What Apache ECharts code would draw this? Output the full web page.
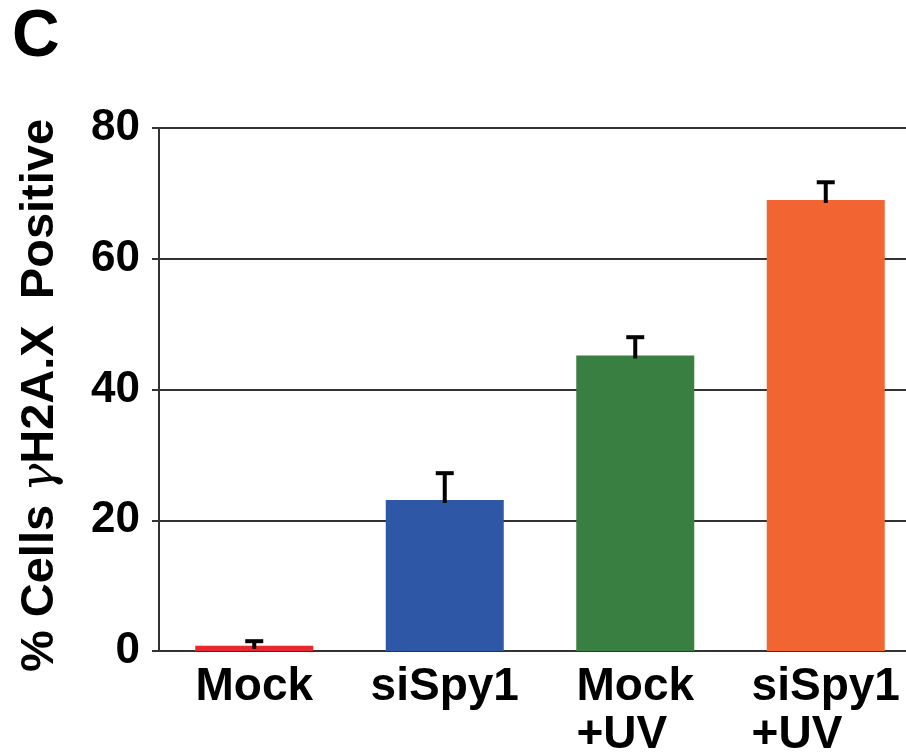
<!DOCTYPE html>
<html>
<head>
<meta charset="utf-8">
<title>γH2A.X positive cells</title>
<script src="https://cdn.jsdelivr.net/npm/echarts@6/dist/echarts.min.js"></script>
<style>
  html, body { margin: 0; padding: 0; background: #ffffff; }
  #chart { width: 906px; height: 754px; }
</style>
</head>
<body>
<div id="chart"></div>
<script>
// Conditions along the x axis
const categories = ['Mock', 'siSpy1', 'Mock\n+UV', 'siSpy1\n+UV'];
// Mean % of cells positive for γH2A.X
const means = [0.8, 23.1, 45.2, 69.0];
// Upper error (SD) for each condition
const errors = [0.7, 4.1, 2.8, 2.7];
// Y axis ticks
const yTicks = [0, 20, 40, 60, 80];
// Bar fill per condition
const barColors = ['#e8282e', '#2e58a6', '#3a7f42', '#f26432'];

const FONT = '"Liberation Sans", Arial, Helvetica, sans-serif';

const chart = echarts.init(document.getElementById('chart'), null, { renderer: 'canvas' });

function labelRich(text) {
  // each line left-aligned inside the centred label block
  return text.split('\n').map(function (l) { return '{l|' + l + '}'; }).join('\n');
}

const option = {
  animation: false,
  backgroundColor: '#ffffff',
  graphic: [{
    type: 'text',
    left: 12,
    top: 5,
    style: {
      text: 'C',
      font: 'bold 66px ' + FONT,
      fill: '#000000'
    }
  }],
  grid: {
    left: 159,
    top: 128,
    width: 762,
    height: 523,
    containLabel: false,
    outerBoundsMode: 'none'
  },
  xAxis: {
    type: 'category',
    data: categories,
    boundaryGap: true,
    axisLine: { show: true, lineStyle: { color: '#333333', width: 2 } },
    axisTick: { show: false },
    splitLine: { show: false },
    axisLabel: {
      interval: 0,
      margin: 12,
      color: '#000000',
      fontFamily: FONT,
      fontWeight: 'bold',
      fontSize: 46,
      lineHeight: 48,
      formatter: labelRich,
      rich: {
        l: {
          align: 'left',
          fontFamily: FONT,
          fontWeight: 'bold',
          fontSize: 46,
          lineHeight: 48,
          color: '#000000'
        }
      }
    }
  },
  yAxis: {
    type: 'value',
    min: yTicks[0],
    max: yTicks[yTicks.length - 1],
    interval: yTicks[1] - yTicks[0],
    name: '{t|% Cells }{g|γ}{t|H2A.X  Positive}',
    nameLocation: 'middle',
    nameRotate: 90,
    nameGap: 95,
    nameTextStyle: {
      padding: [0, 12, 0, 0],
      rich: {
        t: { fontFamily: FONT, fontWeight: 'bold', fontSize: 47, color: '#000000' },
        g: { fontFamily: '"DejaVu Serif", serif', fontStyle: 'italic', fontWeight: 'normal', fontSize: 47, color: '#000000' }
      }
    },
    axisLine: { show: true, lineStyle: { color: '#333333', width: 2 } },
    axisTick: { show: true, inside: false, length: 7, lineStyle: { color: '#333333', width: 2 } },
    splitLine: { show: true, lineStyle: { color: '#333333', width: 2 } },
    axisLabel: {
      margin: 19,
      color: '#000000',
      fontFamily: FONT,
      fontWeight: 'bold',
      fontSize: 44
    }
  },
  series: [
    {
      type: 'bar',
      barWidth: 118,
      data: means.map(function (v, i) {
        return { value: v, itemStyle: { color: barColors[i] } };
      }),
      z: 2
    },
    {
      type: 'custom',
      z: 3,
      data: means.map(function (v, i) { return [i, v, errors[i]]; }),
      renderItem: function (params, api) {
        const i = api.value(0);
        const mean = api.value(1);
        const err = api.value(2);
        const base = api.coord([i, mean]);
        const top = api.coord([i, mean + err]);
        const capHalf = 9;
        const style = { stroke: '#000000', lineWidth: 4, fill: null };
        return {
          type: 'group',
          children: [
            { type: 'line', shape: { x1: base[0], y1: base[1] + 3, x2: top[0], y2: top[1] }, style: style },
            { type: 'line', shape: { x1: top[0] - capHalf, y1: top[1], x2: top[0] + capHalf, y2: top[1] }, style: style }
          ]
        };
      }
    }
  ]
};

chart.setOption(option);
</script>
</body>
</html>
